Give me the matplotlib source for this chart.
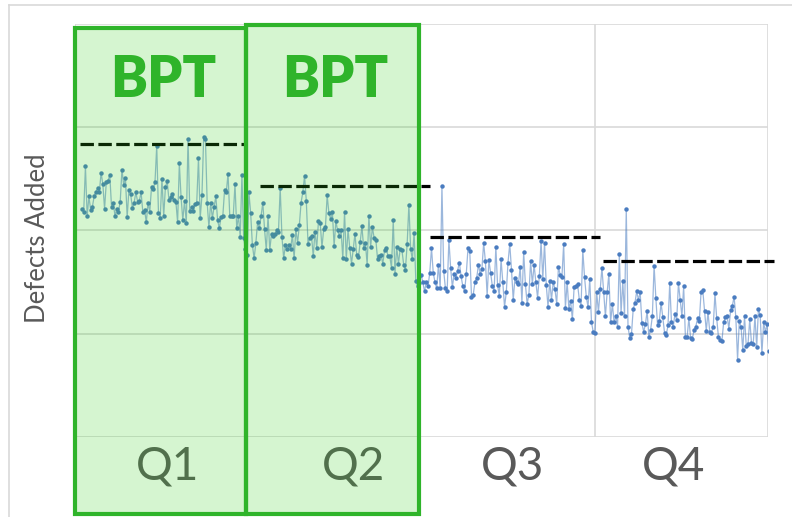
import matplotlib
matplotlib.use("Agg")
import matplotlib.pyplot as plt
from matplotlib.patches import Rectangle
from matplotlib.lines import Line2D
import matplotlib.transforms as mtrans
import numpy as np

# ---------------- data (defects added per day) ----------------
q1_values = [22.1, 21.8, 26.2, 21.4, 23.3, 22.0, 22.3, 23.3, 23.7, 24.1, 23.7, 25.6, 24.5, 22.1, 24.7,
             24.8, 25.4, 22.3, 22.7, 21.4, 22.1, 21.8, 22.8, 25.9, 24.4, 25.1, 21.3, 23.9, 23.5, 22.2,
             22.7, 23.7, 22.8, 22.9, 23.7, 21.8, 22.0, 20.8, 22.7, 21.8, 24.2, 24.0, 24.7,
             28.2, 21.7, 21.2, 25.0, 21.4, 24.2, 24.8, 23.0, 23.2, 23.5, 23.0, 22.8, 20.8, 26.5, 23.2,
             21.0, 22.9, 20.7, 28.9, 21.9, 22.3, 21.9, 22.6, 22.7, 27.0, 21.2, 23.4, 29.1, 28.9, 22.7,
             20.3, 22.7, 21.2, 22.3, 23.3, 21.0, 20.2, 21.3, 21.4, 23.9, 23.7, 25.5, 21.4, 21.4, 21.4,
             24.5, 20.2, 21.4, 19.4, 25.4, 19.3]
q2_values = [18.2, 17.6, 23.7, 21.7, 18.6, 17.3, 18.8, 20.8, 20.2, 21.4, 22.7, 20.1, 18.1, 21.4, 18.1,
             19.7, 19.5, 19.7, 20.0, 19.9, 24.1, 19.4, 17.3, 18.6, 18.2, 18.6, 18.2, 19.6, 17.3, 20.1,
             18.8, 20.5, 22.7, 23.7, 25.3, 22.9, 18.7, 19.3, 19.5, 17.5, 19.9, 18.3, 20.9, 20.7, 18.4,
             20.1, 20.3, 23.4, 21.7, 21.1, 21.8, 18.5, 20.9, 20.0, 19.5, 20.0, 17.3, 21.8, 17.2, 20.1,
             18.3, 16.8, 18.2, 19.7, 17.6, 17.4, 18.9, 20.4, 18.3, 18.8, 16.7, 21.4, 18.4, 20.3, 19.3,
             19.1, 17.2, 17.5, 17.6, 16.8, 18.1, 18.3, 17.5, 17.5, 16.4, 21.0, 15.8, 18.4, 16.8, 18.2,
             18.1, 16.7, 16.2, 18.7, 22.5, 18.2, 17.2]
q3_values = [19.8, 15.1, 14.6, 14.9, 15.7, 15.0, 14.1, 15.0, 14.6, 15.9, 18.3, 15.9, 15.0, 14.4, 16.7,
             14.4, 24.3, 16.1, 14.4, 14.1, 19.1, 16.4, 14.5, 15.8, 15.4, 16.1, 16.9, 15.6, 14.6, 14.1,
             15.8, 18.3, 18.0, 13.6, 13.8, 15.0, 15.4, 16.7, 15.8, 16.3, 18.8, 17.0, 13.7, 17.1, 15.9,
             14.6, 14.1, 18.4, 14.7,
             13.7, 17.2, 15.0, 12.6, 14.0, 16.9, 18.7, 16.2, 13.3, 15.4, 15.0, 14.8, 16.5, 13.0, 17.9,
             14.8, 12.9, 13.8, 17.0, 14.8, 16.7, 15.0, 13.5, 15.6, 19.0, 15.3, 18.8, 14.7, 12.6, 15.1,
             13.3, 15.0, 14.3, 12.9, 16.5, 15.7, 15.5, 18.7, 12.5, 15.0, 12.4, 13.2, 11.4, 14.5, 14.6,
             14.8, 13.3, 12.7, 18.1]
q4_values = [15.5, 13.6, 12.6, 15.3, 11.1, 10.2, 10.1, 14.0, 12.1, 14.3, 16.4, 14.0, 11.7, 14.0, 15.8,
             11.1, 12.9, 11.1, 11.7, 10.7, 17.7, 12.0, 15.1, 11.7, 22.1, 10.7, 9.6, 10.0, 12.4, 13.0,
             14.1, 13.3, 14.0, 11.0, 10.2, 10.9, 12.2, 9.7, 10.4, 11.7, 16.6, 13.5, 10.8, 11.2, 13.0,
             11.6, 10.1, 9.9, 10.8, 14.9, 11.1, 10.7, 11.9, 11.3, 14.9, 13.3, 11.7, 14.6, 9.7, 9.7,
             11.5, 9.6, 9.5, 10.4, 10.7, 11.5, 11.2, 14.0, 14.2, 12.2, 10.3, 12.1, 10.2, 10.1, 10.7,
             13.9, 11.5, 9.7, 9.4, 9.3, 11.1, 11.6, 11.7, 10.5, 12.3, 12.7, 13.6, 11.6, 7.5, 11.2,
             10.7, 8.4, 11.7, 8.8, 9.0, 11.4, 9.1, 9.0, 11.7, 8.7, 12.4, 11.8, 8.1, 11.1, 10.2,
             10.9, 8.3]
quarter_limits = [28.4, 24.3, 19.4, 17.0]          # dashed reference lines
quarter_labels = ["Q1", "Q2", "Q3", "Q4"]
bpt_quarters = ["Q1", "Q2"]

values = np.array(q1_values + q2_values + q3_values + q4_values)
days = np.arange(len(values))

# ---------------- layout constants ----------------
W, H = 792, 517
XMIN, XMAX = -4.0, 394.5
quarter_edges = [XMIN, 94.3, 193.2, 295.0, XMAX]
limit_spans = [(-1.1, 94.3), (102.4, 200.0), (200.0, 297.9), (299.6, 398.0)]
label_x = [49.5, 155.9, 247.9, 340.4]
bpt_x = [46.6, 145.5]

GRID = "#d9d9d9"
LINE_BLUE = "#4a7cc0"
GREEN_EDGE = "#2fb42a"
GREEN_FILL = (50/255, 206/255, 26/255, 0.205)
TXT = "#595959"

plt.rcParams["font.family"] = ["Lato", "DejaVu Sans"]

fig = plt.figure(figsize=(W/100, H/100), dpi=100)
ax = fig.add_axes([75/W, 1-437/H, 693/W, 413/H])

ax.set_xlim(XMIN, XMAX)
ax.set_ylim(0, 40)
ax.set_yticks([0, 10, 20, 30, 40])
ax.set_yticklabels([])
ax.tick_params(axis="y", length=0)
ax.set_xticks(label_x)
ax.set_xticklabels(quarter_labels, fontsize=33, color=TXT)
ax.tick_params(axis="x", length=0, pad=6)
for s in ax.spines.values():
    s.set_visible(False)
ax.grid(axis="y", color=GRID, lw=1.2)
for e in quarter_edges:
    ax.axvline(e, color=GRID, lw=1.2, zorder=0.5)

ax.set_ylabel("Defects Added", fontsize=18.5, color=TXT)
ax.yaxis.set_label_coords(-0.036, 0.482)

# series
ax.plot(days, values, "-", color=LINE_BLUE, lw=0.9, alpha=0.55, zorder=2)
ax.plot(days, values, "o", color=LINE_BLUE, ms=3.2, mec="none", zorder=3)

# dashed quarter lines
for (a, b), v in zip(limit_spans, quarter_limits):
    ax.plot([a, b], [v, v], color="black", lw=2.3, dashes=(4.2, 1.4),
            solid_capstyle="butt", dash_capstyle="butt", clip_on=False, zorder=4)

# outer chart border
fig.add_artist(Line2D([9/W, 1.0], [1-5/H, 1-5/H], transform=fig.transFigure, color=GRID, lw=1.2))
fig.add_artist(Line2D([9/W, 9/W], [0, 1-5/H], transform=fig.transFigure, color=GRID, lw=1.2))

# green BPT boxes, spanning from top of plot to figure bottom
bt = mtrans.blended_transform_factory(ax.transData, fig.transFigure)
tops = [1-28/H, 1-25/H]
for i, q in enumerate(bpt_quarters):
    x0, x1 = quarter_edges[i], quarter_edges[i+1]
    if i == 1:
        x1 = 193.8
    y0 = 3/H
    fig.add_artist(Rectangle((x0, y0), x1-x0, tops[i]-y0, transform=bt,
                             facecolor=GREEN_FILL, edgecolor="none", zorder=5))
    fig.add_artist(Rectangle((x0, y0), x1-x0, tops[i]-y0, transform=bt,
                             facecolor="none", edgecolor=GREEN_EDGE, lw=3.0, zorder=6))
    fig.text(bpt_x[i], 1-97/H, "BPT", transform=bt, ha="center", va="baseline",
             fontsize=40, fontweight="heavy", color=GREEN_EDGE, zorder=7)

fig.savefig("out.png", dpi=100)
